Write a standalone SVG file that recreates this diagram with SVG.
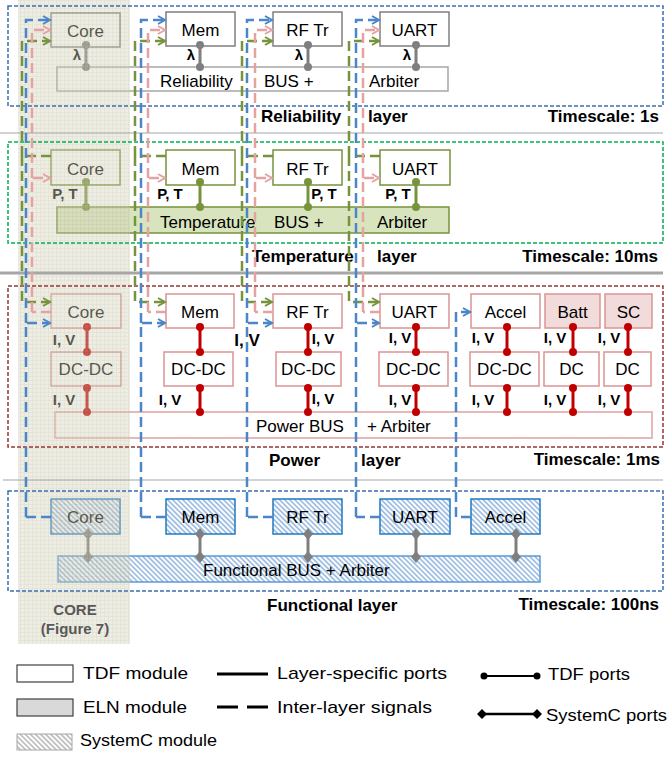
<svg xmlns="http://www.w3.org/2000/svg" width="671" height="758" viewBox="0 0 671 758">
<defs>
  <pattern id="grid" width="4" height="4" patternUnits="userSpaceOnUse">
    <rect width="4" height="4" fill="#d6d4be"/>
    <path d="M0 0.5H4M0.5 0V4" stroke="#bdb99c" stroke-width="0.8"/>
  </pattern>
  <pattern id="hb" width="3.6" height="3.6" patternUnits="userSpaceOnUse" patternTransform="rotate(45)">
    <rect width="3.6" height="3.6" fill="#fff"/>
    <line x1="0" y1="0.9" x2="3.6" y2="0.9" stroke="#8fb4de" stroke-width="1.5"/>
  </pattern>
  <pattern id="hg" width="3.6" height="3.6" patternUnits="userSpaceOnUse" patternTransform="rotate(45)">
    <rect width="3.6" height="3.6" fill="#fff"/>
    <line x1="0" y1="0.9" x2="3.6" y2="0.9" stroke="#b0b0b0" stroke-width="1.4"/>
  </pattern>
  <marker id="aB" markerUnits="userSpaceOnUse" markerWidth="12" markerHeight="12" refX="9" refY="5" orient="auto">
    <path d="M2,1 L9,5 L2,9" fill="none" stroke="#4a86c8" stroke-width="2"/>
  </marker>
  <marker id="aP" markerUnits="userSpaceOnUse" markerWidth="12" markerHeight="12" refX="9" refY="5" orient="auto">
    <path d="M2,1 L9,5 L2,9" fill="none" stroke="#e6a2a2" stroke-width="2"/>
  </marker>
  <marker id="aG" markerUnits="userSpaceOnUse" markerWidth="12" markerHeight="12" refX="9" refY="5" orient="auto">
    <path d="M2,1 L9,5 L2,9" fill="none" stroke="#77933c" stroke-width="2"/>
  </marker>
</defs>
<style>
  text{font-family:"Liberation Sans",Arial,Helvetica,sans-serif;fill:#000}
  .nt{font-size:17px;text-anchor:middle}
  .bt{font-size:17px}
  .lb{font-size:15px;font-weight:bold;text-anchor:middle}
  .lt{font-size:17px;font-weight:bold}
  .ts{font-size:17px;font-weight:bold;text-anchor:end}
  .lg{font-size:17px}
  .rn{fill:#fff;stroke:#7f7f7f;stroke-width:1.5}
  .rb{fill:#fff;stroke:#a6a6a6;stroke-width:1.5}
  .tn{fill:#fff;stroke:#77933c;stroke-width:1.5}
  .tb{fill:#d7e4bd;stroke:#77933c;stroke-width:1.5}
  .pn{fill:#fff;stroke:#d99594;stroke-width:1.5}
  .pf{fill:#f2dcdb;stroke:#d99594;stroke-width:1.5}
  .pb{fill:#fff;stroke:#e6b9b8;stroke-width:2}
  .fn{fill:url(#hb);stroke:#1f7ac2;stroke-width:1.5}
  .fb{fill:url(#hb);stroke:#5b9bd5;stroke-width:1.5}
  .pr{stroke:#7f7f7f;stroke-width:3;fill:#7f7f7f}
  .pt{stroke:#77933c;stroke-width:3;fill:#77933c}
  .pp{stroke:#c00000;stroke-width:3;fill:#c00000}
  .ps{stroke:#7f7f7f;stroke-width:3;fill:#7f7f7f}
  .lay{fill:none;stroke-width:1.5;stroke-dasharray:4 2}
  .c{fill:none;stroke-width:2.5;stroke-dasharray:10 5}
  .cb{stroke:#4a86c8}
  .cp{stroke:#e6a2a2}
  .cg{stroke:#77933c}
  .sep{stroke:#a6a6a6}
</style>
<rect width="671" height="758" fill="#fff"/>

<!-- Reliability layer -->
<g id="rel-bus"><rect class="rb" x="57" y="67" width="391" height="24"/>
  <text class="bt" x="160" y="87">Reliability</text><text class="bt" x="264" y="87">BUS +</text><text class="bt" x="369" y="87">Arbiter</text></g>
<g id="rel-core"><rect class="rn" x="51" y="13" width="69" height="34"/><text class="nt" x="85.5" y="37">Core</text></g>
<g id="rel-mem"><rect class="rn" x="166" y="12" width="69" height="34"/><text class="nt" x="200.5" y="36">Mem</text></g>
<g id="rel-rf"><rect class="rn" x="273" y="12" width="69" height="34"/><text class="nt" x="307.5" y="36">RF Tr</text></g>
<g id="rel-uart"><rect class="rn" x="380" y="12" width="69" height="34"/><text class="nt" x="414.5" y="36">UART</text></g>
<g id="rel-ports">
  <g class="pr"><line x1="86" y1="45" x2="86" y2="67"/><circle cx="86" cy="45" r="4" stroke="none"/><circle cx="86" cy="67" r="4" stroke="none"/></g>
  <g class="pr"><line x1="200" y1="45" x2="200" y2="67"/><circle cx="200" cy="45" r="4" stroke="none"/><circle cx="200" cy="67" r="4" stroke="none"/></g>
  <g class="pr"><line x1="308" y1="45" x2="308" y2="67"/><circle cx="308" cy="45" r="4" stroke="none"/><circle cx="308" cy="67" r="4" stroke="none"/></g>
  <g class="pr"><line x1="416" y1="45" x2="416" y2="67"/><circle cx="416" cy="45" r="4" stroke="none"/><circle cx="416" cy="67" r="4" stroke="none"/></g>
  <text class="lb" x="77" y="60">λ</text><text class="lb" x="191" y="60">λ</text><text class="lb" x="299" y="60">λ</text><text class="lb" x="407" y="60">λ</text>
</g>

<!-- Temperature layer -->
<g id="tmp-bus"><rect class="tb" x="57" y="207" width="392" height="26"/>
  <text class="bt" x="160" y="228">Temperature</text><text class="bt" x="274" y="228">BUS +</text><text class="bt" x="377" y="228">Arbiter</text></g>
<g id="tmp-core"><rect class="tn" x="51" y="150" width="69" height="35"/><text class="nt" x="85.5" y="175">Core</text></g>
<g id="tmp-mem"><rect class="tn" x="166" y="150" width="69" height="35"/><text class="nt" x="200.5" y="175">Mem</text></g>
<g id="tmp-rf"><rect class="tn" x="273" y="150" width="69" height="35"/><text class="nt" x="307.5" y="175">RF Tr</text></g>
<g id="tmp-uart"><rect class="tn" x="380" y="150" width="70" height="35"/><text class="nt" x="415" y="175">UART</text></g>
<g id="tmp-ports">
  <g class="pt"><line x1="86" y1="182" x2="86" y2="207"/><circle cx="86" cy="182" r="4" stroke="none"/><circle cx="86" cy="207" r="4" stroke="none"/></g>
  <g class="pt"><line x1="200" y1="182" x2="200" y2="207"/><circle cx="200" cy="182" r="4" stroke="none"/><circle cx="200" cy="207" r="4" stroke="none"/></g>
  <g class="pt"><line x1="308" y1="182" x2="308" y2="207"/><circle cx="308" cy="182" r="4" stroke="none"/><circle cx="308" cy="207" r="4" stroke="none"/></g>
  <g class="pt"><line x1="416" y1="182" x2="416" y2="207"/><circle cx="416" cy="182" r="4" stroke="none"/><circle cx="416" cy="207" r="4" stroke="none"/></g>
  <text class="lb" x="65" y="199">P, T</text><text class="lb" x="170" y="199">P, T</text><text class="lb" x="324" y="199">P, T</text><text class="lb" x="398" y="199">P, T</text>
</g>

<!-- Power layer -->
<g id="pwr-bus"><rect class="pb" x="55" y="412" width="597" height="26"/>
  <text class="bt" x="256" y="432">Power BUS</text><text class="bt" x="367" y="432">+ Arbiter</text></g>
<g id="pwr-core"><rect class="pn" x="51" y="294" width="70" height="34"/><text class="nt" x="86" y="318">Core</text></g>
<g id="pwr-core-dc"><rect class="pn" x="51" y="352" width="70" height="34"/><text class="nt" x="86" y="375">DC-DC</text></g>
<g id="pwr-mem"><rect class="pn" x="166" y="294" width="68" height="34"/><text class="nt" x="200" y="318">Mem</text></g>
<g id="pwr-mem-dc"><rect class="pn" x="164" y="352" width="69" height="34"/><text class="nt" x="198.5" y="375">DC-DC</text></g>
<g id="pwr-rf"><rect class="pn" x="273" y="294" width="69" height="34"/><text class="nt" x="307.5" y="318">RF Tr</text></g>
<g id="pwr-rf-dc"><rect class="pn" x="276" y="352" width="65" height="34"/><text class="nt" x="308.5" y="375">DC-DC</text></g>
<g id="pwr-uart"><rect class="pn" x="380" y="294" width="69" height="34"/><text class="nt" x="414.5" y="318">UART</text></g>
<g id="pwr-uart-dc"><rect class="pn" x="379" y="352" width="69" height="34"/><text class="nt" x="413.5" y="375">DC-DC</text></g>
<g id="pwr-accel"><rect class="pn" x="471" y="294" width="69" height="34"/><text class="nt" x="505.5" y="318">Accel</text></g>
<g id="pwr-accel-dc"><rect class="pn" x="470" y="352" width="69" height="34"/><text class="nt" x="504.5" y="375">DC-DC</text></g>
<g id="pwr-batt"><rect class="pf" x="545" y="294" width="55" height="34"/><text class="nt" x="572.5" y="318">Batt</text></g>
<g id="pwr-batt-dc"><rect class="pn" x="544" y="352" width="55" height="34"/><text class="nt" x="571.5" y="375">DC</text></g>
<g id="pwr-sc"><rect class="pf" x="605" y="294" width="47" height="34"/><text class="nt" x="628.5" y="318">SC</text></g>
<g id="pwr-sc-dc"><rect class="pn" x="604" y="352" width="47" height="34"/><text class="nt" x="627.5" y="375">DC</text></g>
<g id="pwr-ports">
  <g class="pp"><line x1="87" y1="327" x2="87" y2="352"/><circle cx="87" cy="327" r="4" stroke="none"/><circle cx="87" cy="352" r="4" stroke="none"/><line x1="87" y1="388" x2="87" y2="412"/><circle cx="87" cy="388" r="4" stroke="none"/><circle cx="87" cy="412" r="4" stroke="none"/></g>
  <g class="pp"><line x1="200" y1="327" x2="200" y2="352"/><circle cx="200" cy="327" r="4" stroke="none"/><circle cx="200" cy="352" r="4" stroke="none"/><line x1="200" y1="388" x2="200" y2="412"/><circle cx="200" cy="388" r="4" stroke="none"/><circle cx="200" cy="412" r="4" stroke="none"/></g>
  <g class="pp"><line x1="308" y1="327" x2="308" y2="352"/><circle cx="308" cy="327" r="4" stroke="none"/><circle cx="308" cy="352" r="4" stroke="none"/><line x1="308" y1="388" x2="308" y2="412"/><circle cx="308" cy="388" r="4" stroke="none"/><circle cx="308" cy="412" r="4" stroke="none"/></g>
  <g class="pp"><line x1="416" y1="327" x2="416" y2="352"/><circle cx="416" cy="327" r="4" stroke="none"/><circle cx="416" cy="352" r="4" stroke="none"/><line x1="416" y1="388" x2="416" y2="412"/><circle cx="416" cy="388" r="4" stroke="none"/><circle cx="416" cy="412" r="4" stroke="none"/></g>
  <g class="pp"><line x1="507" y1="327" x2="507" y2="352"/><circle cx="507" cy="327" r="4" stroke="none"/><circle cx="507" cy="352" r="4" stroke="none"/><line x1="507" y1="388" x2="507" y2="412"/><circle cx="507" cy="388" r="4" stroke="none"/><circle cx="507" cy="412" r="4" stroke="none"/></g>
  <g class="pp"><line x1="573" y1="327" x2="573" y2="352"/><circle cx="573" cy="327" r="4" stroke="none"/><circle cx="573" cy="352" r="4" stroke="none"/><line x1="573" y1="388" x2="573" y2="412"/><circle cx="573" cy="388" r="4" stroke="none"/><circle cx="573" cy="412" r="4" stroke="none"/></g>
  <g class="pp"><line x1="628" y1="327" x2="628" y2="352"/><circle cx="628" cy="327" r="4" stroke="none"/><circle cx="628" cy="352" r="4" stroke="none"/><line x1="628" y1="388" x2="628" y2="412"/><circle cx="628" cy="388" r="4" stroke="none"/><circle cx="628" cy="412" r="4" stroke="none"/></g>
  <text class="lb" x="64" y="345">I, V</text><text class="lb" x="64" y="405">I, V</text>
  <text class="lb" x="247" y="346" style="font-size:17px">I, V</text><text class="lb" x="170" y="405">I, V</text>
  <text class="lb" x="323" y="344">I, V</text><text class="lb" x="323" y="404">I, V</text>
  <text class="lb" x="400" y="343">I, V</text><text class="lb" x="400" y="405">I, V</text>
  <text class="lb" x="483" y="343">I, V</text><text class="lb" x="483" y="405">I, V</text>
  <text class="lb" x="555" y="343">I, V</text><text class="lb" x="555" y="405">I, V</text>
  <text class="lb" x="609" y="343">I, V</text><text class="lb" x="609" y="405">I, V</text>
</g>

<!-- Functional layer -->
<g id="fun-bus"><rect class="fb" x="58" y="556" width="482" height="26"/>
  <text class="bt" x="203" y="576">Functional BUS + Arbiter</text></g>
<g id="fun-core"><rect class="fn" x="51" y="499" width="69" height="35"/><text class="nt" x="85.5" y="523">Core</text></g>
<g id="fun-mem"><rect class="fn" x="166" y="499" width="69" height="35"/><text class="nt" x="200.5" y="523">Mem</text></g>
<g id="fun-rf"><rect class="fn" x="273" y="499" width="69" height="35"/><text class="nt" x="307.5" y="523">RF Tr</text></g>
<g id="fun-uart"><rect class="fn" x="380" y="499" width="70" height="35"/><text class="nt" x="415" y="523">UART</text></g>
<g id="fun-accel"><rect class="fn" x="471" y="499" width="69" height="35"/><text class="nt" x="505.5" y="523">Accel</text></g>
<g id="fun-ports">
  <g class="ps"><line x1="88" y1="534" x2="88" y2="557"/><path d="M88,528 L93,534 L88,540 L83,534Z" stroke="none"/><path d="M88,551 L93,557 L88,563 L83,557Z" stroke="none"/></g>
  <g class="ps"><line x1="200" y1="534" x2="200" y2="557"/><path d="M200,528 L205,534 L200,540 L195,534Z" stroke="none"/><path d="M200,551 L205,557 L200,563 L195,557Z" stroke="none"/></g>
  <g class="ps"><line x1="308" y1="534" x2="308" y2="557"/><path d="M308,528 L313,534 L308,540 L303,534Z" stroke="none"/><path d="M308,551 L313,557 L308,563 L303,557Z" stroke="none"/></g>
  <g class="ps"><line x1="416" y1="534" x2="416" y2="557"/><path d="M416,528 L421,534 L416,540 L411,534Z" stroke="none"/><path d="M416,551 L421,557 L416,563 L411,557Z" stroke="none"/></g>
  <g class="ps"><line x1="516" y1="534" x2="516" y2="557"/><path d="M516,528 L521,534 L516,540 L511,534Z" stroke="none"/><path d="M516,551 L521,557 L516,563 L511,557Z" stroke="none"/></g>
</g>

<!-- CORE column overlay -->
<g id="core-column">
  <rect x="18" y="0" width="112" height="644" fill="url(#grid)" opacity="0.42"/>
  <text class="lb" x="75" y="615" style="fill:#595959">CORE</text>
  <text class="lb" x="75" y="634" style="fill:#595959">(Figure 7)</text>
</g>

<!-- Layer frames and labels -->
<g id="layers">
  <line class="sep" x1="0" y1="133" x2="663" y2="133" stroke-width="1.2"/>
  <line class="sep" x1="0" y1="273" x2="663" y2="273" stroke-width="3"/>
  <line class="sep" x1="3" y1="480" x2="663" y2="480" stroke-width="1.2"/>
  <rect class="lay" x="8" y="6" width="655" height="100" stroke="#3b6db3"/>
  <rect class="lay" x="8" y="142" width="655" height="101" stroke="#00b050"/>
  <rect class="lay" x="8" y="286" width="655" height="161" stroke="#953735"/>
  <rect class="lay" x="8" y="491" width="655" height="100" stroke="#3b6db3"/>
  <text class="lt" x="261" y="122">Reliability</text><text class="lt" x="368" y="122">layer</text><text class="ts" x="659" y="122">Timescale: 1s</text>
  <text class="lt" x="252" y="262">Temperature</text><text class="lt" x="377" y="262">layer</text><text class="ts" x="658" y="262">Timescale: 10ms</text>
  <text class="lt" x="269" y="466">Power</text><text class="lt" x="361" y="466">layer</text><text class="ts" x="660" y="465">Timescale: 1ms</text>
  <text class="lt" x="267" y="611">Functional layer</text><text class="ts" x="659" y="610">Timescale: 100ns</text>
</g>

<!-- Inter-layer signals -->
<g id="connectors">
  <!-- Core -->
  <path class="c cg" d="M51,156 H22"/>
  <path class="c cg" d="M22,156 V41 H50" marker-end="url(#aG)"/>
  <path class="c cg" d="M22,156 V302 H50" marker-end="url(#aG)"/>
  <path class="c cb" d="M51,517 H26"/>
  <path class="c cb" d="M26,517 V323 H50" marker-end="url(#aB)"/>
  <path class="c cb" d="M26,323 V20 H50" marker-end="url(#aB)"/>
  <path class="c cp" d="M51,312 H32"/>
  <path class="c cp" d="M32,312 V178 H50" marker-end="url(#aP)"/>
  <path class="c cp" d="M32,178 V30 H50" marker-end="url(#aP)"/>
  <!-- Mem -->
  <path class="c cg" d="M166,156 H135"/>
  <path class="c cg" d="M135,156 V41 H165" marker-end="url(#aG)"/>
  <path class="c cg" d="M135,156 V302 H165" marker-end="url(#aG)"/>
  <path class="c cb" d="M166,517 H141"/>
  <path class="c cb" d="M141,517 V323 H165" marker-end="url(#aB)"/>
  <path class="c cb" d="M141,323 V20 H165" marker-end="url(#aB)"/>
  <path class="c cp" d="M166,312 H148"/>
  <path class="c cp" d="M148,312 V178 H165" marker-end="url(#aP)"/>
  <path class="c cp" d="M148,178 V30 H165" marker-end="url(#aP)"/>
  <!-- RF Tr -->
  <path class="c cg" d="M273,156 H242"/>
  <path class="c cg" d="M242,156 V41 H272" marker-end="url(#aG)"/>
  <path class="c cg" d="M242,156 V302 H272" marker-end="url(#aG)"/>
  <path class="c cb" d="M273,517 H247"/>
  <path class="c cb" d="M247,517 V323 H272" marker-end="url(#aB)"/>
  <path class="c cb" d="M247,323 V20 H272" marker-end="url(#aB)"/>
  <path class="c cp" d="M273,312 H255"/>
  <path class="c cp" d="M255,312 V178 H272" marker-end="url(#aP)"/>
  <path class="c cp" d="M255,178 V30 H272" marker-end="url(#aP)"/>
  <!-- UART -->
  <path class="c cg" d="M380,156 H349"/>
  <path class="c cg" d="M349,156 V41 H379" marker-end="url(#aG)"/>
  <path class="c cg" d="M349,156 V302 H379" marker-end="url(#aG)"/>
  <path class="c cb" d="M380,517 H356"/>
  <path class="c cb" d="M356,517 V323 H379" marker-end="url(#aB)"/>
  <path class="c cb" d="M356,323 V20 H379" marker-end="url(#aB)"/>
  <path class="c cp" d="M380,312 H363"/>
  <path class="c cp" d="M363,312 V178 H379" marker-end="url(#aP)"/>
  <path class="c cp" d="M363,178 V30 H379" marker-end="url(#aP)"/>
  <!-- Accel -->
  <path class="c cb" d="M471,517 H456"/>
  <path class="c cb" d="M456,517 V312 H470" marker-end="url(#aB)"/>
</g>

<!-- Legend -->
<g id="legend">
  <rect x="17" y="665" width="56" height="17" fill="#fff" stroke="#404040" stroke-width="1.2"/>
  <rect x="17" y="699" width="56" height="17" fill="#d9d9d9" stroke="#404040" stroke-width="1.2"/>
  <rect x="17" y="734" width="55" height="16" fill="url(#hg)" stroke="#a6a6a6" stroke-width="1"/>
  <text class="lg" x="83" y="679" textLength="105" lengthAdjust="spacingAndGlyphs">TDF module</text>
  <text class="lg" x="83" y="713" textLength="104" lengthAdjust="spacingAndGlyphs">ELN module</text>
  <text class="lg" x="80" y="746" textLength="137" lengthAdjust="spacingAndGlyphs">SystemC module</text>
  <line x1="217" y1="674" x2="268" y2="674" stroke="#000" stroke-width="3"/>
  <line x1="217" y1="707" x2="268" y2="707" stroke="#000" stroke-width="3" stroke-dasharray="21 9"/>
  <text class="lg" x="277" y="679" textLength="170" lengthAdjust="spacingAndGlyphs">Layer-specific ports</text>
  <text class="lg" x="277" y="713" textLength="155" lengthAdjust="spacingAndGlyphs">Inter-layer signals</text>
  <line x1="484" y1="676" x2="537" y2="676" stroke="#000" stroke-width="2"/>
  <circle cx="484" cy="676" r="3.5" fill="#000"/><circle cx="537" cy="676" r="3.5" fill="#000"/>
  <line x1="482" y1="714" x2="537" y2="714" stroke="#000" stroke-width="2.5"/>
  <path d="M482,709 L487,714 L482,719 L477,714Z M537,709 L542,714 L537,719 L532,714Z" fill="#000"/>
  <text class="lg" x="548" y="680" textLength="82" lengthAdjust="spacingAndGlyphs">TDF ports</text>
  <text class="lg" x="546" y="721" textLength="121" lengthAdjust="spacingAndGlyphs">SystemC ports</text>
</g>
</svg>
